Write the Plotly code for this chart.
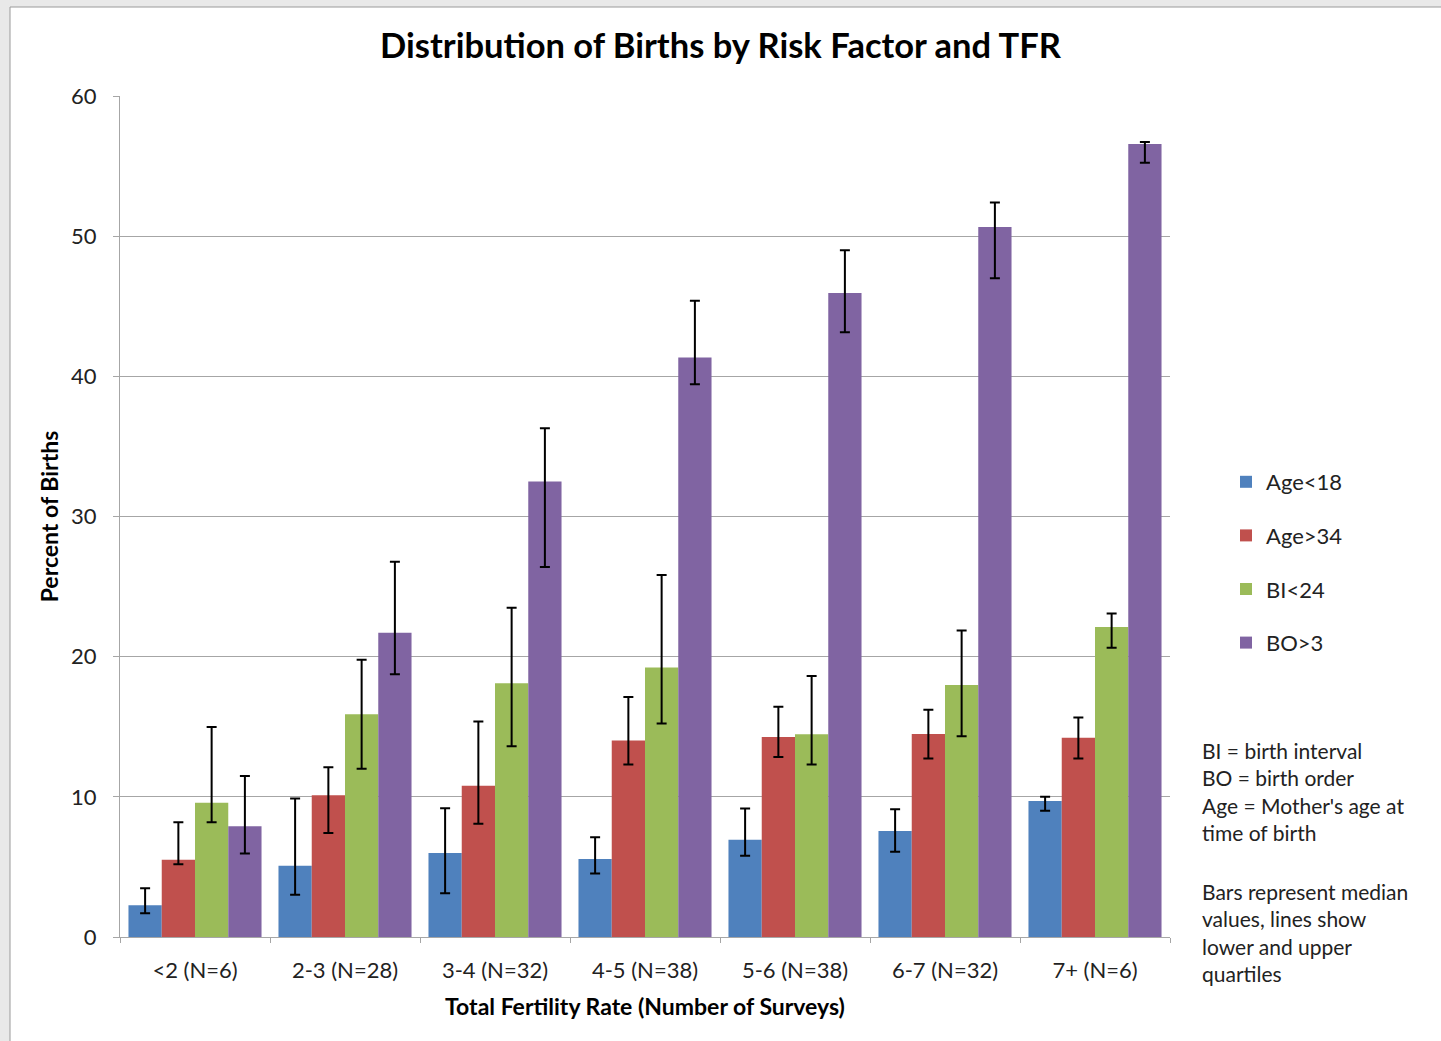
import plotly.graph_objects as go

categories = ["<2 (N=6)", "2-3 (N=28)", "3-4 (N=32)", "4-5 (N=38)", "5-6 (N=38)", "6-7 (N=32)", "7+ (N=6)"]
series_names = ["Age<18", "Age>34", "BI<24", "BO>3"]

age_lt18 = [2.26, 5.09, 6.0, 5.56, 6.94, 7.57, 9.71]
age_lt18_lo = [1.69, 3.02, 3.12, 4.53, 5.8, 6.09, 9.01]
age_lt18_hi = [3.48, 9.88, 9.19, 7.12, 9.16, 9.12, 10.0]

age_gt34 = [5.52, 10.12, 10.79, 14.02, 14.26, 14.48, 14.22]
age_gt34_lo = [5.19, 7.42, 8.08, 12.31, 12.85, 12.74, 12.74]
age_gt34_hi = [8.19, 12.11, 15.38, 17.12, 16.43, 16.21, 15.66]

bi_lt24 = [9.57, 15.9, 18.1, 19.22, 14.47, 17.98, 22.12]
bi_lt24_lo = [8.19, 12.01, 13.6, 15.23, 12.31, 14.33, 20.64]
bi_lt24_hi = [14.98, 19.78, 23.49, 25.83, 18.62, 21.86, 23.08]

bo_gt3 = [7.9, 21.7, 32.5, 41.35, 45.95, 50.66, 56.57]
bo_gt3_lo = [5.95, 18.75, 26.39, 39.43, 43.15, 47.0, 55.24]
bo_gt3_hi = [11.48, 26.78, 36.3, 45.4, 49.0, 52.4, 56.72]

colors = ["#4F81BD", "#C0504D", "#9BBB59", "#8064A2"]

data = [
    (age_lt18, age_lt18_lo, age_lt18_hi),
    (age_gt34, age_gt34_lo, age_gt34_hi),
    (bi_lt24, bi_lt24_lo, bi_lt24_hi),
    (bo_gt3, bo_gt3_lo, bo_gt3_hi),
]

FONT = "Lato"
TXT = "#222222"

fig = go.Figure()
for name, color, (vals, lo, hi) in zip(series_names, colors, data):
    fig.add_trace(go.Bar(
        x=categories, y=vals, name=name, legendgroup=name,
        marker=dict(color=color, line=dict(width=0)),
        error_y=dict(
            type="data", symmetric=False,
            array=[h - v for h, v in zip(hi, vals)],
            arrayminus=[v - l for v, l in zip(vals, lo)],
            color="black", thickness=2, width=5,
        ),
    ))

L, R, T, B = 120, 271, 96, 104
W, H = 1441, 1041
pw, ph = W - L - R, H - T - B

def px_x(px):
    return (px - L) / pw

def px_y(py):
    return (H - B - py) / ph

fig.add_shape(type="rect", xref="paper", yref="paper",
              x0=px_x(10), x1=px_x(1450), y0=px_y(1050), y1=px_y(7),
              fillcolor="white", line=dict(color="#9a9a9a", width=1), layer="below")

fig.update_layout(
    width=W, height=H,
    margin=dict(l=L, r=R, t=T, b=B),
    paper_bgcolor="#e9e9e9",
    plot_bgcolor="rgba(0,0,0,0)",
    barmode="group", bargap=0.113, bargroupgap=0,
    font=dict(family=FONT, color=TXT, size=22),
    title=dict(text="<b>Distribution of Births by Risk Factor and TFR</b>",
               x=0.5, xref="container", xanchor="center",
               y=1 - 46 / H, yref="container", yanchor="middle",
               font=dict(family=FONT, size=34.5, color="black")),
    legend=dict(x=px_x(1226), y=px_y(461), xanchor="left", yanchor="top",
                font=dict(size=22, color=TXT), tracegroupgap=22,
                bgcolor="rgba(0,0,0,0)", itemwidth=30),
    showlegend=True,
)

fig.update_yaxes(range=[0, 60], dtick=10, showgrid=True, gridcolor="#a6a6a6", gridwidth=1,
                 showline=True, linecolor="#a6a6a6", linewidth=1,
                 ticks="outside", ticklen=6, tickcolor="#a6a6a6", ticklabelstandoff=12,
                 tickfont=dict(size=22, color=TXT), zeroline=False,
                 title=dict(text="<b>Percent of Births</b>", font=dict(size=23, color="black"), standoff=6))
fig.update_xaxes(showline=True, linecolor="#a6a6a6", linewidth=1,
                 ticks="outside", ticklen=5, tickcolor="#a6a6a6", tickson="boundaries",
                 ticklabelstandoff=14,
                 tickfont=dict(size=22, color=TXT),
                 title=dict(text="<b>Total Fertility Rate (Number of Surveys)</b>",
                            font=dict(size=23, color="black"), standoff=16))

fig.add_annotation(xref="paper", yref="paper", x=px_x(1200), y=px_y(736),
                   xanchor="left", yanchor="top", align="left", showarrow=False,
                   text="BI = birth interval<br>BO = birth order<br>Age = Mother's age at<br>time of birth",
                   font=dict(size=21, color=TXT))
fig.add_annotation(xref="paper", yref="paper", x=px_x(1200), y=px_y(877),
                   xanchor="left", yanchor="top", align="left", showarrow=False,
                   text="Bars represent median<br>values, lines show<br>lower and upper<br>quartiles",
                   font=dict(size=21, color=TXT))

fig.write_html("out.html", config={"displayModeBar": False},
               post_script="document.body.style.margin='0';document.body.style.overflow='hidden';")
